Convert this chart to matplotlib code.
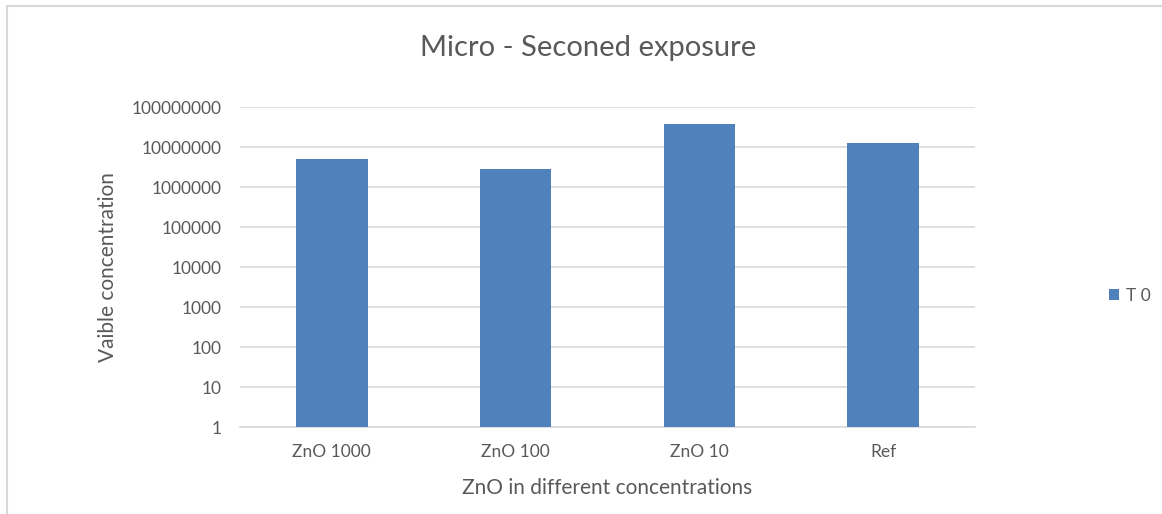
import matplotlib.pyplot as plt
from matplotlib.patches import Rectangle

categorias = ["ZnO 1000", "ZnO 100", "ZnO 10", "Ref"]
valores_t0 = [4.9e6, 2.9e6, 3.7e7, 1.26e7]
etiquetas_y = ["1", "10", "100", "1000", "10000", "100000",
               "1000000", "10000000", "100000000"]
ticks_y = [10 ** i for i in range(9)]

plt.rcParams['font.family'] = ['Lato', 'DejaVu Sans']
gris_texto = '#595959'

fig = plt.figure(figsize=(11.62, 5.14), dpi=100)
ax = fig.add_axes([240 / 1162, 1 - 427 / 514, 735 / 1162, 320 / 514])

# marco del grafico
fig.patches.append(Rectangle((7 / 1162, -0.01), 1.02, 1 - 6 / 514 + 0.01,
                             transform=fig.transFigure, fill=False,
                             edgecolor='#d9d9d9', linewidth=1.5))

x = range(len(categorias))
ax.bar(x, valores_t0, width=0.39, color='#4f81bd', label='T 0', zorder=3)

ax.set_yscale('log')
ax.set_ylim(1, 1e8)
ax.set_xlim(-0.5, len(categorias) - 0.5)
ax.set_yticks(ticks_y)
ax.set_yticklabels(etiquetas_y)
ax.minorticks_off()
ax.set_xticks(list(x))
ax.set_xticklabels(categorias)

ax.grid(axis='y', color='#d9d9d9', linewidth=1.2, zorder=0)
for lado in ['top', 'right', 'left']:
    ax.spines[lado].set_visible(False)
ax.spines['bottom'].set_color('#d9d9d9')
ax.spines['bottom'].set_linewidth(1.2)
ax.tick_params(axis='both', length=0, labelsize=12.5, colors=gris_texto)
ax.tick_params(axis='y', pad=13)
ax.tick_params(axis='x', pad=12)

ax.set_xlabel("ZnO in different concentrations", fontsize=15,
              color=gris_texto, labelpad=13)
ax.set_ylabel("Vaible concentration", fontsize=15, color=gris_texto,
              labelpad=10)
fig.text(0.5 * (420 + 757) / 1162, 1 - 48 / 514, "Micro - Seconed exposure",
         ha='center', va='center', fontsize=21, color=gris_texto)

ax.legend(loc='center left', bbox_to_anchor=(1093 / 1162, 1 - 296 / 514),
          bbox_transform=fig.transFigure, frameon=False, fontsize=12.5,
          labelcolor=gris_texto, handlelength=0.6, handleheight=0.6,
          handletextpad=0.4)

fig.savefig('out.png', dpi=100)
